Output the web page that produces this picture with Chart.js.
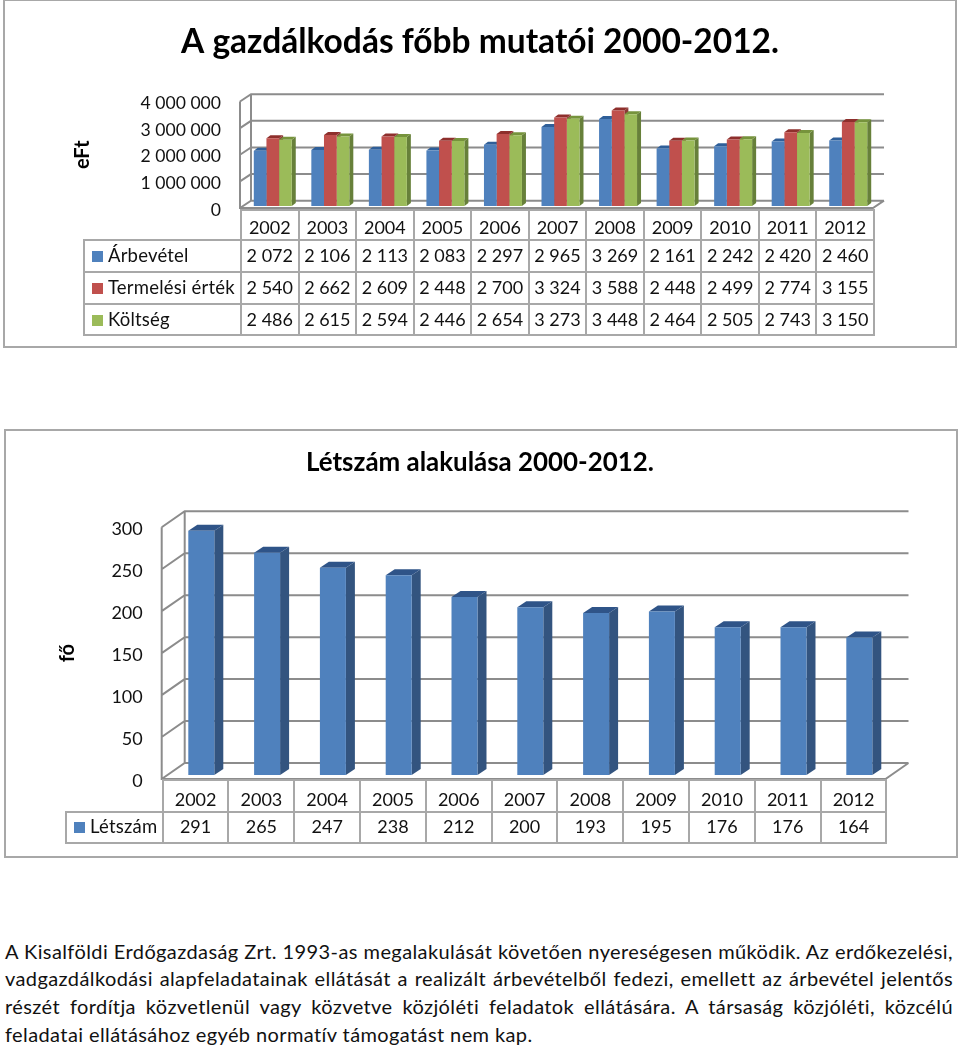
<!DOCTYPE html>
<html lang="hu">
<head>
  <meta charset="UTF-8">
  <title>A gazdálkodás főbb mutatói</title>
  <script src="https://cdn.jsdelivr.net/npm/chart.js"></script>
  <style>
    html, body { margin: 0; padding: 0; background: #fff; }
    body { position: relative; width: 960px; height: 1046px; overflow: hidden; font-family: Lato, sans-serif; color: #111; }
    .frame { position: absolute; box-sizing: border-box; border: 2px solid #a8a8a8; }
    canvas { position: absolute; left: 0; }
    table { position: absolute; border-collapse: collapse; table-layout: fixed; font-size: 18px; }
    td { border: 2px solid #a8a8a8; padding: 0 0 2px 0; text-align: center; white-space: nowrap; }
    tr:first-child td { padding: 3px 0 0 0; }
    #tableLetszam tr:first-child td { padding: 5px 0 0 0; }
    #tableLetszam tr:last-child td { padding-bottom: 4px; }
    td.blank { border-top: 0; border-left: 0; }
    td.name { text-align: left; padding-left: 7px; font-size: 18.5px; letter-spacing: 0.2px; }
    .swatch { display: inline-block; width: 11px; height: 11px; margin-right: 5px; }
    .text { position: absolute; left: 5px; width: 948px; font-size: 20px; letter-spacing: 0.4px; line-height: 27.7px; top: 937.5px; }
    .text div { text-align: justify; text-align-last: justify; white-space: nowrap; }
    .text div:last-child { text-align-last: left; }
  </style>
</head>
<body>
  <div class="frame" style="left:3px;top:-1px;width:954px;height:349px"></div>
  <div class="frame" style="left:4px;top:429px;width:954px;height:429px"></div>
  <canvas id="chartMutatok"></canvas>
  <canvas id="chartLetszam"></canvas>
  <table id="tableMutatok" style="left:83px;top:209px"></table>
  <table id="tableLetszam" style="left:65px;top:779px"></table>
  <div class="text">
    <div>A Kisalföldi Erdőgazdaság Zrt. 1993-as megalakulását követően nyereségesen működik. Az erdőkezelési,</div>
    <div>vadgazdálkodási alapfeladatainak ellátását a realizált árbevételből fedezi, emellett az árbevétel jelentős</div>
    <div>részét fordítja közvetlenül vagy közvetve közjóléti feladatok ellátására. A társaság közjóléti, közcélú</div>
    <div>feladatai ellátásához egyéb normatív támogatást nem kap.</div>
  </div>

  <script>
    const years = ['2002','2003','2004','2005','2006','2007','2008','2009','2010','2011','2012'];
    const arbevetel = [2072,2106,2113,2083,2297,2965,3269,2161,2242,2420,2460];
    const termelesi = [2540,2662,2609,2448,2700,3324,3588,2448,2499,2774,3155];
    const koltseg = [2486,2615,2594,2446,2654,3273,3448,2464,2505,2743,3150];
    const letszam = [291,265,247,238,212,200,193,195,176,176,164];
    const mutatokTicks = ['0','1 000 000','2 000 000','3 000 000','4 000 000'];

    const FONT = 'Lato';
    const TEXT = '#111';
    const GRID = '#8c8c8c';

    function polygon(ctx, color, pts) {
      ctx.fillStyle = color;
      ctx.beginPath();
      pts.forEach((p, i) => i ? ctx.lineTo(p[0], p[1]) : ctx.moveTo(p[0], p[1]));
      ctx.closePath();
      ctx.fill();
    }

    // hamis 3D: hátfal, rácsvonalak, oszlopok oldala és teteje
    const fake3d = {
      id: 'fake3d',
      beforeDatasetsDraw(chart, args, o) {
        const ctx = chart.ctx, y = chart.scales.y, a = chart.chartArea;
        ctx.save();
        ctx.strokeStyle = GRID;
        ctx.lineWidth = 2;
        ctx.beginPath();
        y.ticks.forEach(t => {
          const py = y.getPixelForValue(t.value);
          ctx.moveTo(a.left, py);
          ctx.lineTo(a.left + o.wallX, py - o.wallY);
          ctx.lineTo(a.right + o.wallX, py - o.wallY);
        });
        ctx.moveTo(a.left, a.top);
        ctx.lineTo(a.left, a.bottom);
        ctx.lineTo(a.right, a.bottom);
        ctx.lineTo(a.right + o.wallX, a.bottom - o.wallY);
        ctx.moveTo(a.left + o.wallX, a.top - o.wallY);
        ctx.lineTo(a.left + o.wallX, a.bottom - o.wallY);
        ctx.stroke();
        ctx.restore();

        ctx.save();
        ctx.translate(o.shiftX, -o.shiftY);
        chart.data.datasets.forEach((ds, i) => {
          chart.getDatasetMeta(i).data.forEach(bar => {
            const l = bar.x - bar.width / 2, r = bar.x + bar.width / 2;
            polygon(ctx, ds.sideColor, [[r, bar.y], [r + o.depthX, bar.y - o.depthY], [r + o.depthX, bar.base - o.depthY], [r, bar.base]]);
            polygon(ctx, ds.topColor, [[l, bar.y], [l + o.depthX, bar.y - o.depthY], [r + o.depthX, bar.y - o.depthY], [r, bar.y]]);
          });
        });
      },
      afterDatasetsDraw(chart) {
        chart.ctx.restore();
      }
    };

    function makeChart(id, top, height, cfg) {
      const el = document.getElementById(id);
      el.style.top = top + 'px';
      el.style.width = '960px';
      el.style.height = height + 'px';
      el.width = 960;
      el.height = height;
      return new Chart(el, {
        type: 'bar',
        data: { labels: years, datasets: cfg.datasets },
        options: {
          responsive: false,
          animation: false,
          layout: { padding: { left: 0, right: 0, top: 0, bottom: height - cfg.bottom } },
          plugins: {
            legend: { display: false },
            tooltip: { enabled: false },
            title: {
              display: true,
              text: cfg.title,
              color: '#000',
              font: { family: FONT, size: cfg.titleSize, weight: 'bold', lineHeight: 1.2 },
              padding: cfg.titlePadding
            },
            fake3d: cfg.depth
          },
          scales: {
            x: { display: false, offset: true, grid: { display: false } },
            y: {
              min: 0,
              max: cfg.max,
              afterFit(s) { s.width = cfg.left; },
              grid: { display: false, drawTicks: false },
              border: { display: false },
              ticks: { stepSize: cfg.step, padding: 19, labelOffset: 2, color: TEXT, font: { family: FONT, size: cfg.tickSize }, callback: cfg.tickLabel },
              title: { display: true, text: cfg.axisTitle, color: '#000', font: { family: FONT, size: 20, weight: 'bold' }, padding: { top: cfg.axisTitleTop, bottom: 0 } }
            },
            // üres jobb oldali tengely, hogy a cím a vászon közepére kerüljön
            rightGap: {
              position: 'right',
              afterFit(s) { s.width = 960 - cfg.right; },
              grid: { display: false, drawTicks: false },
              border: { display: false },
              ticks: { display: false }
            }
          }
        },
        plugins: [fake3d]
      });
    }

    function bars(label, values, color, sideColor, topColor, pct) {
      return { label, data: values, backgroundColor: color, sideColor, topColor, categoryPercentage: pct, barPercentage: 1, clip: false };
    }

    makeChart('chartMutatok', 0, 350, {
      title: 'A gazdálkodás főbb mutatói 2000-2012.', titleSize: 33.5, titlePadding: { top: 22, bottom: 39.3 },
      left: 240, right: 873, bottom: 208, max: 4000, step: 1000, tickSize: 17.6,
      tickLabel: (v, i) => mutatokTicks[i],
      axisTitle: 'eFt', axisTitleTop: 71,
      depth: { wallX: 11, wallY: 7.3, shiftX: 4, shiftY: 2, depthX: 4, depthY: 3 },
      datasets: [
        bars('Árbevétel', arbevetel, '#4f81bd', '#385d8a', '#2f5f99', 0.66),
        bars('Termelési érték', termelesi, '#c0504d', '#8c3836', '#8e2f2c', 0.66),
        bars('Költség', koltseg, '#9bbb59', '#67803a', '#76933c', 0.66)
      ]
    });

    makeChart('chartLetszam', 429, 430, {
      title: 'Létszám alakulása 2000-2012.', titleSize: 25.9, titlePadding: { top: 18, bottom: 49.2 },
      left: 161.7, right: 885.5, bottom: 350, max: 300, step: 50, tickSize: 18,
      axisTitle: 'fő', axisTitleTop: 56,
      depth: { wallX: 23, wallY: 16, shiftX: 6.7, shiftY: 4, depthX: 9, depthY: 6 },
      datasets: [bars('Létszám', letszam, '#4f81bd', '#33547f', '#2f5488', 0.395)]
    });

    const fmt = v => String(v).replace(/\B(?=(\d{3})+$)/g, ' ');

    function makeTable(id, rows, nameWidth, cellWidth, headH, rowHs) {
      let html = '<colgroup><col style="width:' + nameWidth + 'px">' + years.map(() => '<col style="width:' + cellWidth + 'px">').join('') + '</colgroup>';
      html += '<tr style="height:' + headH + 'px"><td class="blank"></td>' + years.map(y => '<td>' + y + '</td>').join('') + '</tr>';
      rows.forEach((r, i) => {
        html += '<tr style="height:' + rowHs[i] + 'px"><td class="name"><span class="swatch" style="background:' + r.color + '"></span>' + r.name + '</td>' + r.values.map(v => '<td>' + fmt(v) + '</td>').join('') + '</tr>';
      });
      const t = document.getElementById(id);
      t.innerHTML = html;
      t.style.width = (nameWidth + cellWidth * years.length) + 'px';
    }

    makeTable('tableMutatok', [
      { name: 'Árbevétel', color: '#4f81bd', values: arbevetel },
      { name: 'Termelési érték', color: '#c0504d', values: termelesi },
      { name: 'Költség', color: '#9bbb59', values: koltseg }
    ], 157, 57.55, 30, [32, 32, 31]);

    makeTable('tableLetszam', [
      { name: 'Létszám', color: '#4f81bd', values: letszam }
    ], 96.7, 65.8, 32, [31]);
  </script>
</body>
</html>
